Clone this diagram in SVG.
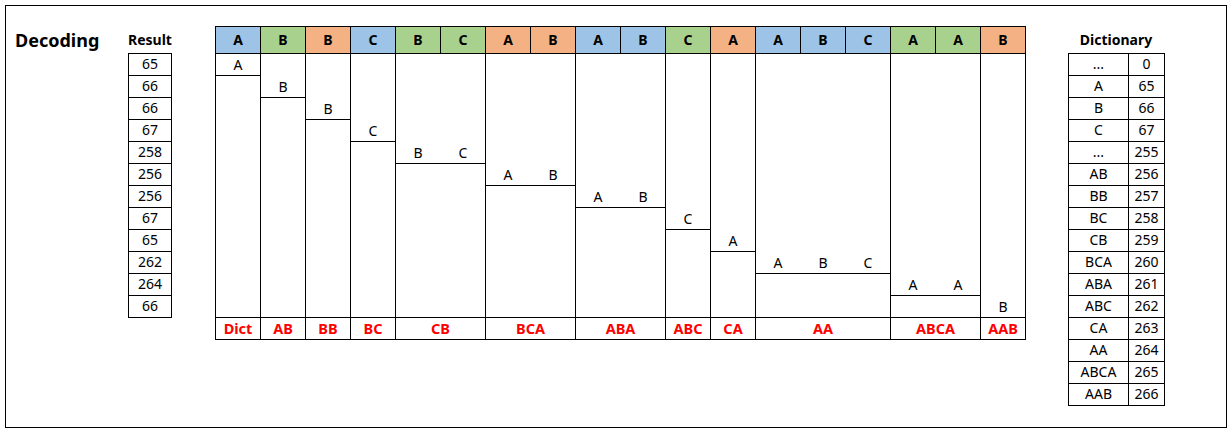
<svg xmlns="http://www.w3.org/2000/svg" width="1232" height="433" viewBox="0 0 1232 433">
<style>
.ln{fill:none;stroke:#000;stroke-width:1}
.cell{fill:#fff;stroke:#000;stroke-width:1}
.b{fill:#9DC3E6;stroke:#000;stroke-width:1}
.g{fill:#A9D18E;stroke:#000;stroke-width:1}
.o{fill:#F4B183;stroke:#000;stroke-width:1}
text{font-family:"Noto Sans","DejaVu Sans",sans-serif;text-anchor:middle;fill:#000}
.t{font-size:14px}
.s{font-size:14px}
.h{font-size:14px;font-weight:bold}
.r{font-size:14.5px;font-weight:bold;fill:#FF0000}
.title{font-size:14px;font-weight:bold}
</style>
<rect x="0" y="0" width="1232" height="433" fill="#fff"/>
<rect class="ln" x="5.5" y="5.5" width="1221" height="422"/>
<text x="15" y="47" style="font-size:18px;font-weight:bold;text-anchor:start">Decoding</text>

<g id="result">
<text class="title" x="150" y="45">Result</text>
<rect class="cell" x="128.5" y="53.5" width="43" height="264"/>
<path class="ln" d="M128 75.5H172M128 97.5H172M128 119.5H172M128 141.5H172M128 163.5H172M128 185.5H172M128 207.5H172M128 229.5H172M128 251.5H172M128 273.5H172M128 295.5H172"/>
<text class="t" x="150" y="69">65</text>
<text class="t" x="150" y="91">66</text>
<text class="t" x="150" y="113">66</text>
<text class="t" x="150" y="135">67</text>
<text class="t" x="150" y="157">258</text>
<text class="t" x="150" y="179">256</text>
<text class="t" x="150" y="201">256</text>
<text class="t" x="150" y="223">67</text>
<text class="t" x="150" y="245">65</text>
<text class="t" x="150" y="267">262</text>
<text class="t" x="150" y="289">264</text>
<text class="t" x="150" y="311">66</text>
</g>

<g id="header">
<rect class="b" x="215.5" y="26.5" width="45" height="27"/><text class="h" x="238" y="45">A</text>
<rect class="g" x="260.5" y="26.5" width="45" height="27"/><text class="h" x="283" y="45">B</text>
<rect class="o" x="305.5" y="26.5" width="45" height="27"/><text class="h" x="328" y="45">B</text>
<rect class="b" x="350.5" y="26.5" width="45" height="27"/><text class="h" x="373" y="45">C</text>
<rect class="g" x="395.5" y="26.5" width="45" height="27"/><text class="h" x="418" y="45">B</text>
<rect class="g" x="440.5" y="26.5" width="45" height="27"/><text class="h" x="463" y="45">C</text>
<rect class="o" x="485.5" y="26.5" width="45" height="27"/><text class="h" x="508" y="45">A</text>
<rect class="o" x="530.5" y="26.5" width="45" height="27"/><text class="h" x="553" y="45">B</text>
<rect class="b" x="575.5" y="26.5" width="45" height="27"/><text class="h" x="598" y="45">A</text>
<rect class="b" x="620.5" y="26.5" width="45" height="27"/><text class="h" x="643" y="45">B</text>
<rect class="g" x="665.5" y="26.5" width="45" height="27"/><text class="h" x="688" y="45">C</text>
<rect class="o" x="710.5" y="26.5" width="45" height="27"/><text class="h" x="733" y="45">A</text>
<rect class="b" x="755.5" y="26.5" width="45" height="27"/><text class="h" x="778" y="45">A</text>
<rect class="b" x="800.5" y="26.5" width="45" height="27"/><text class="h" x="823" y="45">B</text>
<rect class="b" x="845.5" y="26.5" width="45" height="27"/><text class="h" x="868" y="45">C</text>
<rect class="g" x="890.5" y="26.5" width="45" height="27"/><text class="h" x="913" y="45">A</text>
<rect class="g" x="935.5" y="26.5" width="45" height="27"/><text class="h" x="958" y="45">A</text>
<rect class="o" x="980.5" y="26.5" width="45" height="27"/><text class="h" x="1003" y="45">B</text>
</g>

<g id="g-dict">
<rect class="cell" x="215.5" y="53.5" width="45" height="286"/>
<path class="ln" d="M215 75.5H261M215 317.5H261"/>
<text class="s" x="238" y="70">A</text>
<text class="r" x="238" y="334">Dict</text>
</g>
<g id="g-ab">
<rect class="cell" x="260.5" y="53.5" width="45" height="286"/>
<path class="ln" d="M260 97.5H306M260 317.5H306"/>
<text class="s" x="283" y="92">B</text>
<text class="r" x="283" y="334">AB</text>
</g>
<g id="g-bb">
<rect class="cell" x="305.5" y="53.5" width="45" height="286"/>
<path class="ln" d="M305 119.5H351M305 317.5H351"/>
<text class="s" x="328" y="114">B</text>
<text class="r" x="328" y="334">BB</text>
</g>
<g id="g-bc">
<rect class="cell" x="350.5" y="53.5" width="45" height="286"/>
<path class="ln" d="M350 141.5H396M350 317.5H396"/>
<text class="s" x="373" y="136">C</text>
<text class="r" x="373" y="334">BC</text>
</g>
<g id="g-cb">
<rect class="cell" x="395.5" y="53.5" width="90" height="286"/>
<path class="ln" d="M395 163.5H486M395 317.5H486"/>
<text class="s" x="418" y="158">B</text>
<text class="s" x="463" y="158">C</text>
<text class="r" x="440.5" y="334">CB</text>
</g>
<g id="g-bca">
<rect class="cell" x="485.5" y="53.5" width="90" height="286"/>
<path class="ln" d="M485 185.5H576M485 317.5H576"/>
<text class="s" x="508" y="180">A</text>
<text class="s" x="553" y="180">B</text>
<text class="r" x="530.5" y="334">BCA</text>
</g>
<g id="g-aba">
<rect class="cell" x="575.5" y="53.5" width="90" height="286"/>
<path class="ln" d="M575 207.5H666M575 317.5H666"/>
<text class="s" x="598" y="202">A</text>
<text class="s" x="643" y="202">B</text>
<text class="r" x="620.5" y="334">ABA</text>
</g>
<g id="g-abc">
<rect class="cell" x="665.5" y="53.5" width="45" height="286"/>
<path class="ln" d="M665 229.5H711M665 317.5H711"/>
<text class="s" x="688" y="224">C</text>
<text class="r" x="688" y="334">ABC</text>
</g>
<g id="g-ca">
<rect class="cell" x="710.5" y="53.5" width="45" height="286"/>
<path class="ln" d="M710 251.5H756M710 317.5H756"/>
<text class="s" x="733" y="246">A</text>
<text class="r" x="733" y="334">CA</text>
</g>
<g id="g-aa">
<rect class="cell" x="755.5" y="53.5" width="135" height="286"/>
<path class="ln" d="M755 273.5H891M755 317.5H891"/>
<text class="s" x="778" y="268">A</text>
<text class="s" x="823" y="268">B</text>
<text class="s" x="868" y="268">C</text>
<text class="r" x="823" y="334">AA</text>
</g>
<g id="g-abca">
<rect class="cell" x="890.5" y="53.5" width="90" height="286"/>
<path class="ln" d="M890 295.5H981M890 317.5H981"/>
<text class="s" x="913" y="290">A</text>
<text class="s" x="958" y="290">A</text>
<text class="r" x="935.5" y="334">ABCA</text>
</g>
<g id="g-aab">
<rect class="cell" x="980.5" y="53.5" width="45" height="286"/>
<path class="ln" d="M980 317.5H1026"/>
<text class="s" x="1003" y="312">B</text>
<text class="r" x="1003" y="334">AAB</text>
</g>

<g id="dictionary">
<text class="title" x="1116" y="45">Dictionary</text>
<rect class="cell" x="1068.5" y="53.5" width="96" height="352"/>
<path class="ln" d="M1128.5 53V406M1068 75.5H1165M1068 97.5H1165M1068 119.5H1165M1068 141.5H1165M1068 163.5H1165M1068 185.5H1165M1068 207.5H1165M1068 229.5H1165M1068 251.5H1165M1068 273.5H1165M1068 295.5H1165M1068 317.5H1165M1068 339.5H1165M1068 361.5H1165M1068 383.5H1165"/>
<text class="t" x="1098.5" y="69">...</text><text class="t" x="1146.5" y="69">0</text>
<text class="t" x="1098.5" y="91">A</text><text class="t" x="1146.5" y="91">65</text>
<text class="t" x="1098.5" y="113">B</text><text class="t" x="1146.5" y="113">66</text>
<text class="t" x="1098.5" y="135">C</text><text class="t" x="1146.5" y="135">67</text>
<text class="t" x="1098.5" y="157">...</text><text class="t" x="1146.5" y="157">255</text>
<text class="t" x="1098.5" y="179">AB</text><text class="t" x="1146.5" y="179">256</text>
<text class="t" x="1098.5" y="201">BB</text><text class="t" x="1146.5" y="201">257</text>
<text class="t" x="1098.5" y="223">BC</text><text class="t" x="1146.5" y="223">258</text>
<text class="t" x="1098.5" y="245">CB</text><text class="t" x="1146.5" y="245">259</text>
<text class="t" x="1098.5" y="267">BCA</text><text class="t" x="1146.5" y="267">260</text>
<text class="t" x="1098.5" y="289">ABA</text><text class="t" x="1146.5" y="289">261</text>
<text class="t" x="1098.5" y="311">ABC</text><text class="t" x="1146.5" y="311">262</text>
<text class="t" x="1098.5" y="333">CA</text><text class="t" x="1146.5" y="333">263</text>
<text class="t" x="1098.5" y="355">AA</text><text class="t" x="1146.5" y="355">264</text>
<text class="t" x="1098.5" y="377">ABCA</text><text class="t" x="1146.5" y="377">265</text>
<text class="t" x="1098.5" y="399">AAB</text><text class="t" x="1146.5" y="399">266</text>
</g>
</svg>
